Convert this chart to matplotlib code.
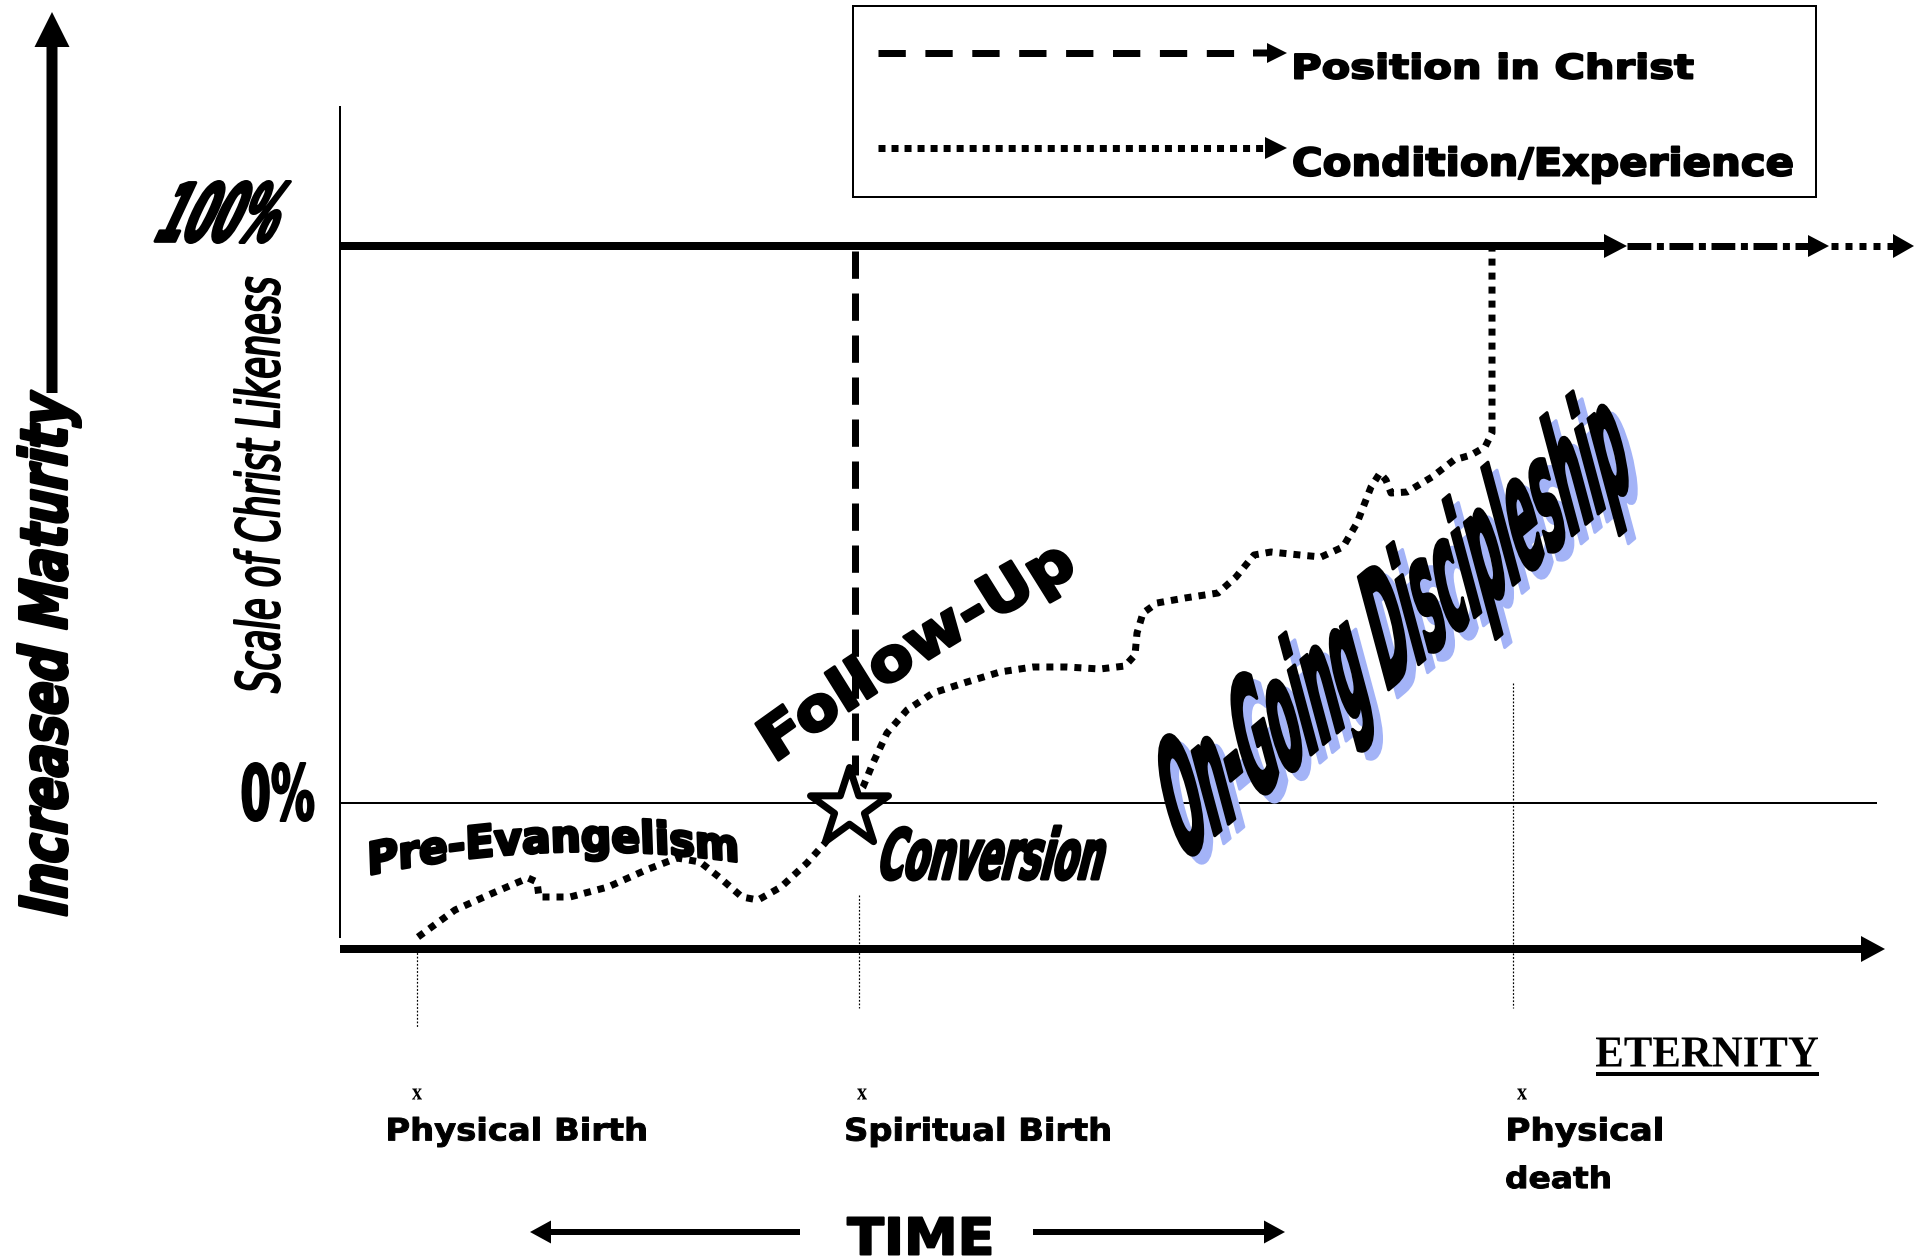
import numpy as np
import matplotlib
matplotlib.use("Agg")
import matplotlib.pyplot as plt
from matplotlib.patches import Rectangle
from matplotlib.path import Path
from matplotlib.transforms import Affine2D
from matplotlib.patheffects import AbstractPathEffect
from matplotlib.colors import to_rgba

W, H = 1923, 1259

# scale levels and time axis, in picture pixels
axis_x0 = 340
level_names = ["100%", "0%"]
level_y = [246, 803]
time_y = 949

# life events along the time axis
event_x = [417, 859, 1513]
event_top = [949, 895, 683]
event_bottom = [1028, 1008, 1008]
mark_x = [417, 862, 1522]

# condition / experience path
exp_x = [418, 455, 493, 528, 537, 539, 570, 608, 646, 677, 700, 719, 742, 758, 781,
         807, 825, 845, 863, 873, 887, 907, 933, 967, 1000, 1033, 1067, 1100, 1125,
         1135, 1137, 1143, 1157, 1185, 1218, 1236, 1254, 1271, 1300, 1321, 1343, 1357,
         1371, 1380, 1386, 1391, 1407, 1432, 1454, 1471, 1485, 1492, 1492]
exp_y = [937, 910, 893, 878, 882, 897, 897, 887, 870, 858, 862, 877, 897, 900, 887,
         863, 843, 812, 787, 763, 733, 710, 693, 682, 672, 667, 667, 669, 666,
         655, 633, 613, 603, 598, 593, 577, 555, 552, 555, 557, 547, 523,
         487, 473, 480, 493, 492, 477, 460, 455, 447, 433, 250]

# position in Christ (vertical dashed)
position_x = 855
position_y = [251, 775]

star_xy = (849, 808)


class FitText(AbstractPathEffect):
    """Draw the glyphs stretched into a w x h box centred on xy."""

    def __init__(self, trans, xy, w, h, skew=0, bend=0, stroke=0, shadow=None):
        super().__init__()
        self.trans, self.xy, self.w, self.h = trans, xy, w, h
        self.skew, self.bend, self.stroke = skew, bend, stroke
        self.shadow = to_rgba(shadow) if shadow else None

    def _draw(self, renderer, gc, path, trans, color):
        gc0 = renderer.new_gc()
        gc0.copy_properties(gc)
        if self.stroke:
            gc0.set_linewidth(self.stroke * 0.72)
            gc0.set_foreground(color)
            gc0.set_joinstyle("round")
        renderer.draw_path(gc0, path, trans, color)
        gc0.restore()

    def draw_path(self, renderer, gc, tpath, affine, rgbFace=None):
        m = affine.get_matrix()
        ang = np.degrees(np.arctan2(m[1, 0], m[0, 0]))
        ext = tpath.get_extents()
        v = tpath.vertices
        w, h = self.w - self.stroke, self.h - self.stroke
        x = (v[:, 0] - (ext.x0 + ext.x1) / 2) * w / ext.width
        y = (v[:, 1] - (ext.y0 + ext.y1) / 2) * h / ext.height
        x = x + np.tan(np.radians(self.skew)) * y
        if self.bend:
            y = y - self.bend * (2 * x / w) ** 2
        path = Path(np.column_stack([x, y]), tpath.codes)
        px_, py_ = self.trans.transform(self.xy)
        rot = Affine2D().rotate_deg(ang)
        if self.shadow is not None:
            self._draw(renderer, gc, path, rot + Affine2D().translate(px_ + 9, py_ - 8),
                       self.shadow)
        self._draw(renderer, gc, path, rot + Affine2D().translate(px_, py_), rgbFace)


def fit_text(ax, x, y, s, w, h, rot=0, skew=0, bend=0, stroke=0, shadow=None, **kw):
    t = ax.text(x, y, s, ha="center", va="center", fontsize=h, **kw)
    bb = t.get_window_extent(ax.figure.canvas.get_renderer())
    t.set_fontsize(h * min(w / bb.width, h / bb.height))
    t.set_rotation(rot)
    t.set_path_effects([FitText(ax.transData, (x, y), w, h, skew, bend, stroke, shadow)])
    return t


def px(v):
    return v * 0.72  # pixels -> points at 100 dpi


fig = plt.figure(figsize=(W / 100, H / 100), dpi=100)
ax = fig.add_axes([0, 0, 1, 1])
ax.set_xlim(0, W)
ax.set_ylim(H, 0)
ax.axis("off")

bold = dict(family="DejaVu Sans", fontweight="bold")

# --- frame ---
ax.arrow(52, 393, 0, 12 - 393, width=11, head_width=35, head_length=35,
         length_includes_head=True, fc="k", ec="none")
ax.plot([axis_x0, axis_x0], [107, 937], color="k", lw=px(2))

# 100% line with its continuation into eternity
ax.arrow(axis_x0, level_y[0], 1627 - axis_x0, 0, width=8, head_width=24, head_length=23,
         length_includes_head=True, fc="k", ec="none")
ax.plot([1627, 1808], [level_y[0]] * 2, color="k", lw=px(7),
        linestyle=(0, (3.4, 0.8, 1.0, 0.8)), dash_capstyle="butt")
ax.arrow(1808, level_y[0], 21, 0, width=0, head_width=22, head_length=21,
         length_includes_head=True, fc="k", ec="none")
ax.plot([1831, 1893], [level_y[0]] * 2, color="k", lw=px(7),
        linestyle=(0, (1, 1)), dash_capstyle="butt")
ax.arrow(1893, level_y[0], 21, 0, width=0, head_width=24, head_length=21,
         length_includes_head=True, fc="k", ec="none")

# 0% line
ax.plot([axis_x0, 1876], [level_y[1]] * 2, color="k", lw=px(2))

# time axis
ax.arrow(axis_x0, time_y, 1885 - axis_x0, 0, width=8, head_width=26, head_length=24,
         length_includes_head=True, fc="k", ec="none")

# event guides
for x, y0, y1 in zip(event_x, event_top, event_bottom):
    ax.plot([x, x], [y0, y1], color="k", lw=px(1.2), linestyle=(0, (1.5, 1.5)))

# --- curves ---
ax.plot(exp_x, exp_y, color="k", lw=px(7), linestyle=(0, (1, 1)),
        dash_capstyle="butt", zorder=3)
ax.plot([position_x, position_x], position_y, color="k", lw=px(7),
        linestyle=(0, (3.9, 2.1)), dash_capstyle="butt", zorder=3)

star = Path.unit_regular_star(5, 0.382)
ax.plot([star_xy[0]], [star_xy[1]], marker=star, ms=px(82), mfc="white",
        mec="black", mew=px(7), zorder=5)

# --- legend ---
ax.add_patch(Rectangle((853, 6), 963, 191, fill=False, ec="k", lw=px(2)))
ax.plot([878, 1234], [53, 53], color="k", lw=px(7), linestyle=(0, (3.9, 2.8)),
        dash_capstyle="butt")
ax.arrow(1253, 53, 34, 0, width=7, head_width=20, head_length=20,
         length_includes_head=True, fc="k", ec="none")
ax.plot([878, 1265], [148, 148], color="k", lw=px(7), linestyle=(0, (1, 0.86)),
        dash_capstyle="butt")
ax.arrow(1265, 148, 22, 0, width=0, head_width=22, head_length=22,
         length_includes_head=True, fc="k", ec="none")
fit_text(ax, 1494, 66, "Position in Christ", 400, 28, stroke=2, **bold)
fit_text(ax, 1543, 165, "Condition/Experience", 500, 39, stroke=2, **bold)

# --- axis texts ---
fit_text(ax, 49, 653, "Increased Maturity", 520, 66, rot=90, skew=12, stroke=3, **bold)
fit_text(ax, 257, 485, "Scale of Christ Likeness", 417, 48, rot=90, stroke=2,
         family="DejaVu Sans", style="oblique")
fit_text(ax, 226, 212, level_names[0], 118, 64, skew=25, stroke=3, **bold)
fit_text(ax, 278, 792, level_names[1], 73, 60, stroke=2, **bold)

# --- stage texts ---
fit_text(ax, 553, 840, "Pre-Evangelism", 368, 46, rot=2, bend=16, stroke=3, **bold)
fit_text(ax, 916, 648, "Follow-Up", 355, 60, rot=32, bend=6, stroke=3, **bold)
fit_text(ax, 994, 853, "Conversion", 224, 57, skew=14, stroke=3, **bold)
fit_text(ax, 1396, 632, "On-Going Discipleship", 590, 145, rot=40, skew=25,
         stroke=3, shadow="#a3b3f7", **bold)

# --- event labels ---
for x in mark_x:
    fit_text(ax, x, 1094, "x", 10, 11, family="Liberation Serif", fontweight="bold")
fit_text(ax, 517, 1132, "Physical Birth", 258, 31, stroke=1, **bold)
fit_text(ax, 978, 1132, "Spiritual Birth", 264, 31, stroke=1, **bold)
fit_text(ax, 1585, 1132, "Physical", 154, 31, stroke=1, **bold)
fit_text(ax, 1558, 1177, "death", 104, 24, stroke=1, **bold)

fit_text(ax, 1707, 1052, "ETERNITY", 222, 29, family="Liberation Serif", fontweight="bold")
ax.plot([1596, 1819], [1074, 1074], color="k", lw=px(4), solid_capstyle="butt")

# --- time ---
fit_text(ax, 919, 1236, "TIME", 145, 39, stroke=2, **bold)
ax.arrow(800, 1232, 530 - 800, 0, width=6, head_width=23, head_length=21,
         length_includes_head=True, fc="k", ec="none")
ax.arrow(1033, 1232, 1285 - 1033, 0, width=6, head_width=23, head_length=21,
         length_includes_head=True, fc="k", ec="none")

fig.savefig("out.png", dpi=100)
